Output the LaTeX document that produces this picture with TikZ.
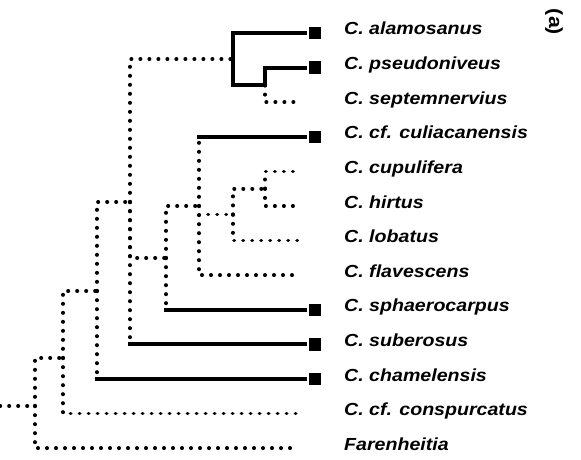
\documentclass[tikz,border=0pt]{standalone}
\usepackage{fontspec}
\newfontfamily\labfont[FakeStretch=1.12]{Liberation Sans}
\begin{document}
\begin{tikzpicture}[x=1pt,y=-1pt,
  dotl/.style={line width=3.6pt, dash pattern=on 0.4pt off 8.6pt, line cap=round},
  soll/.style={line width=4pt, line cap=rect, line join=miter},
  sq/.style={fill=black, inner sep=0pt, minimum width=12pt, minimum height=12.5pt},
  lab/.style={anchor=base west, inner sep=0pt, font=\labfont\bfseries\itshape\fontsize{17.5}{20}\selectfont}]
\useasboundingbox (0,0) rectangle (581,460);
\def\ly#1{33+34.6*#1}
% leaf ends (solid ones end at 305, dotted at 298)
\coordinate (l0) at (305,{\ly{0}});
\coordinate (l1) at (305,{\ly{1}});
\coordinate (l2) at (298,{\ly{2}});
\coordinate (l3) at (305,{\ly{3}});
\coordinate (l4) at (298,{\ly{4}});
\coordinate (l5) at (298,{\ly{5}});
\coordinate (l6) at (298,{\ly{6}});
\coordinate (l7) at (298,{\ly{7}});
\coordinate (l8) at (305,{\ly{8}});
\coordinate (l9) at (305,{\ly{9}});
\coordinate (l10) at (305,{\ly{10}});
\coordinate (l11) at (298,{\ly{11}});
\coordinate (l12) at (298,{\ly{12}});
% internal nodes
\coordinate (n1) at (265,85.4);
\coordinate (n2) at (233,59.2);
\coordinate (n3) at (265,188.7);
\coordinate (n4) at (233,214.6);
\coordinate (nA) at (199,206);
\coordinate (nB) at (166,258);
\coordinate (nC) at (130,202);
\coordinate (nD) at (97,291);
\coordinate (nE) at (63,358);
\coordinate (nF) at (35,406);
\coordinate (root) at (0,406);
% dotted branches
\draw[dotl] (n1) |- (l2);
\draw[dotl] (nC) |- (n2);
\draw[dotl] (n3) |- (l4);
\draw[dotl] (n3) |- (l5);
\draw[dotl] (n4) |- (n3);
\draw[dotl] (n4) |- (l6);
\draw[dotl] (nA |- n4) -- (n4);
\draw[dotl] (nA) |- (l7);
\draw[dotl] (nA) -- (nA |- l3);
\draw[dotl] (nB) |- (nA);
\draw[dotl] (nB) -- (nB |- l8);
\draw[dotl] (nC) |- (nB);
\draw[dotl] (nC) -- (nC |- l9);
\draw[dotl] (nD) |- (nC);
\draw[dotl] (nD) -- (nD |- l10);
\draw[dotl] (nE) |- (nD);
\draw[dotl] (nE) |- (l11);
\draw[dotl] (nF) |- (nE);
\draw[dotl] (nF) |- (l12);
\draw[dotl] (root) -- (nF);
% solid branches
\draw[soll] (l0) -| (n2) |- (n1) |- (l1);
\draw[soll] (nA |- l3) -- (l3);
\draw[soll] (nB |- l8) -- (l8);
\draw[soll] (nC |- l9) -- (l9);
\draw[soll] (nD |- l10) -- (l10);
% squares
\foreach \i in {0,1,3,8,9,10} \node[sq] (s\i) at (314.5,{\ly{\i}}) {};
% labels
\node[lab] (t0) at (344,{\ly{0}+2}) {C. alamosanus};
\node[lab] (t1) at (344,{\ly{1}+2}) {C. pseudoniveus};
\node[lab] (t2) at (344,{\ly{2}+2}) {C. septemnervius};
\node[lab] (t3) at (344,{\ly{3}+2}) {C. cf. culiacanensis};
\node[lab] (t4) at (344,{\ly{4}+2}) {C. cupulifera};
\node[lab] (t5) at (344,{\ly{5}+2}) {C. hirtus};
\node[lab] (t6) at (344,{\ly{6}+2}) {C. lobatus};
\node[lab] (t7) at (344,{\ly{7}+2}) {C. flavescens};
\node[lab] (t8) at (344,{\ly{8}+2}) {C. sphaerocarpus};
\node[lab] (t9) at (344,{\ly{9}+2}) {C. suberosus};
\node[lab] (t10) at (344,{\ly{10}+2}) {C. chamelensis};
\node[lab] (t11) at (344,{\ly{11}+2}) {C. cf. conspurcatus};
\node[lab] (t12) at (344,{\ly{12}+2}) {Farenheitia};
\node[rotate=-90, inner sep=0pt, font=\labfont\bfseries\fontsize{19}{22}\selectfont] (pa) at (554,22) {(a)};
\end{tikzpicture}
\end{document}
